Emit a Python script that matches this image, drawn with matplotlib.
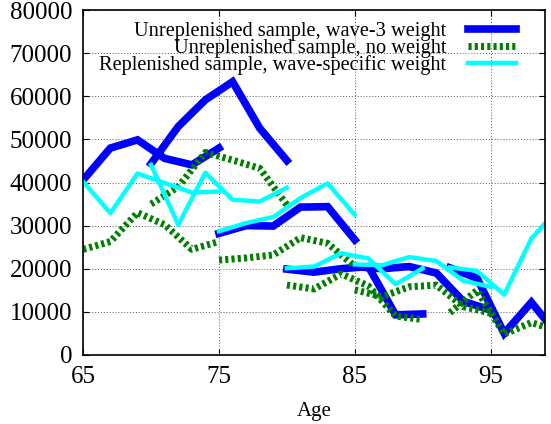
import matplotlib
matplotlib.use("Agg")
import matplotlib.pyplot as plt
import numpy as np

plt.rcParams['font.family'] = ['Liberation Serif', 'DejaVu Serif']

# ages of each cohort segment
cohort_ages = [
    [65, 67, 69, 71, 73, 75],
    [70, 72, 74, 76, 78, 80],
    [75, 77, 79, 81, 83, 85],
    [80, 82, 84, 86, 88, 90],
    [85, 87, 89, 91, 93, 95],
    [92, 94, 96, 98, 99],
]

unrep_w3 = [
    [40600, 48000, 49900, 45600, 44100, 48000],
    [44400, 53000, 59200, 63400, 52600, 45100],
    [28200, 30000, 29900, 34300, 34400, 26700],
    [19900, 19200, 20000, 20500, 9300, 9500],
    [20500, 20000, 20500, 19000, 12400, 10400],
    [20200, 17800, 5000, 12200, 8300],
]

unrep_now = [
    [24500, 26300, 33000, 30200, 24500, 26300],
    [35000, 39000, 47000, 45200, 43300, 34800],
    [22000, 22500, 23200, 27200, 25900, 20500],
    [16200, 15300, 18800, 16000, 9000, 8200],
    [15100, 13500, 15800, 16200, 11200, 9700],
    [9800, 15000, 4800, 7500, 6500],
]

rep_ws = [
    [40200, 32900, 42100, 39900, 37700, 37900],
    [44100, 30200, 42300, 36000, 35600, 38800],
    [28700, 30600, 32000, 36400, 39800, 32500],
    [20100, 20500, 23600, 22400, 16400, 20100],
    [21000, 20800, 22700, 21800, 17200, 15800],
    [20300, 19500, 14000, 27000, 30500],
]

labels = ["Unreplenished sample, wave-3 weight",
          "Unreplenished sample, no weight",
          "Replenished sample, wave-specific weight"]


def joined(segs):
    # put NaN between cohorts so they are not connected
    xs, ys = [], []
    for a, v in zip(cohort_ages, segs):
        xs += a + [np.nan]
        ys += v + [np.nan]
    return xs, ys


fig = plt.figure(figsize=(5.51, 4.24), dpi=100)
ax = fig.add_axes([0.151, 0.163, 0.838, 0.813])

x, y = joined(unrep_w3)
ax.plot(x, y, color='#0000ff', lw=5.5, solid_joinstyle='miter', label=labels[0])
x, y = joined(unrep_now)
ax.plot(x, y, color='#007f00', lw=5, linestyle=(0, (0.45, 0.45)),
        dash_capstyle='butt', label=labels[1])
x, y = joined(rep_ws)
ax.plot(x, y, color='#00ffff', lw=3.2, label=labels[2])

ax.set_xlim(65, 99)
ax.set_ylim(0, 80000)
ax.set_xticks([65, 75, 85, 95])
ax.set_yticks(np.arange(0, 80001, 10000))
ax.tick_params(direction='in', top=True, right=True, length=4, width=0.8,
               labelsize=18, pad=8)
ax.grid(True, color='0.35', linestyle=(0, (1, 2)), lw=0.7)
for s in ax.spines.values():
    s.set_linewidth(1.2)
ax.set_xlabel("Age", fontsize=15, labelpad=10)

# markerfirst=False right-aligns the labels against the samples
leg = ax.legend(loc='upper right', bbox_to_anchor=(0.937, 0.966),
                frameon=False, markerfirst=False, fontsize=14.7,
                handlelength=2.35, handletextpad=1.05, labelspacing=-0.13,
                borderaxespad=0, borderpad=0)

fig.savefig("out.png", dpi=100)
